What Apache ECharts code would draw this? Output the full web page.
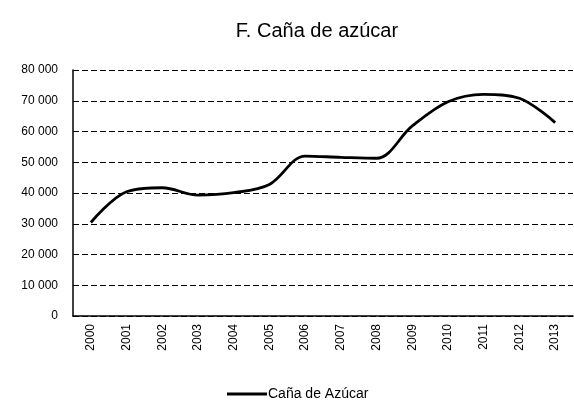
<!DOCTYPE html>
<html><head><meta charset="utf-8">
<script src="https://cdn.jsdelivr.net/npm/echarts@6/dist/echarts.min.js"></script>
<style>html,body{margin:0;padding:0;background:#fff}#c{width:574px;height:414px}</style>
</head><body><div id="c"></div>
<script>
const years = ['2000','2001','2002','2003','2004','2005','2006','2007','2008','2009','2010','2011','2012','2013'];
const cana = [30400, 40400, 41700, 39300, 40100, 42800, 52000, 51600, 51300, 61800, 69700, 72100, 70800, 62900];
const yTicks = [0, 10000, 20000, 30000, 40000, 50000, 60000, 70000, 80000];
const fmt = v => v === 0 ? '0' : (Math.floor(v/1000) + ' ' + String(v%1000).padStart(3,'0'));
const chart = echarts.init(document.getElementById('c'));
chart.setOption({
  animation: false,
  textStyle: {fontFamily: 'Liberation Sans, Arial, sans-serif'},
  title: {text: 'F. Caña de azúcar', left: 312, top: 16, textAlign: 'center',
    textStyle: {fontSize: 20, fontWeight: 'normal', color: '#000', fontFamily: 'Liberation Sans, Arial, sans-serif'}},
  grid: {left: 73, right: 1, top: 70, bottom: 98, containLabel: false},
  legend: {bottom: 8, left: 222, itemWidth: 40, itemHeight: 3, itemGap: 2,
    textStyle: {fontSize: 14, color: '#000', padding: [0, 0, 0, -4]}, icon: 'rect',
    data: [{name: 'Caña de Azúcar', icon: 'rect'}]},
  xAxis: {type: 'category', data: years, boundaryGap: true,
    axisLine: {lineStyle: {color: '#000', width: 1.5}},
    axisTick: {show: false},
    axisLabel: {rotate: 90, color: '#000', fontSize: 12, margin: 8}},
  yAxis: {type: 'value', min: yTicks[0], max: yTicks[yTicks.length-1], interval: 10000,
    axisLine: {show: true, lineStyle: {color: '#000', width: 1.5}},
    axisTick: {show: false},
    axisLabel: {color: '#000', fontSize: 12, margin: 15, formatter: fmt},
    splitLine: {lineStyle: {color: '#000', type: [6, 3], width: 1.1}}},
  series: [{name: 'Caña de Azúcar', type: 'line', data: cana, smooth: 0.35, symbol: 'none',
    lineStyle: {color: '#000', width: 2.8}, itemStyle: {color: '#000'}}]
});
</script></body></html>
